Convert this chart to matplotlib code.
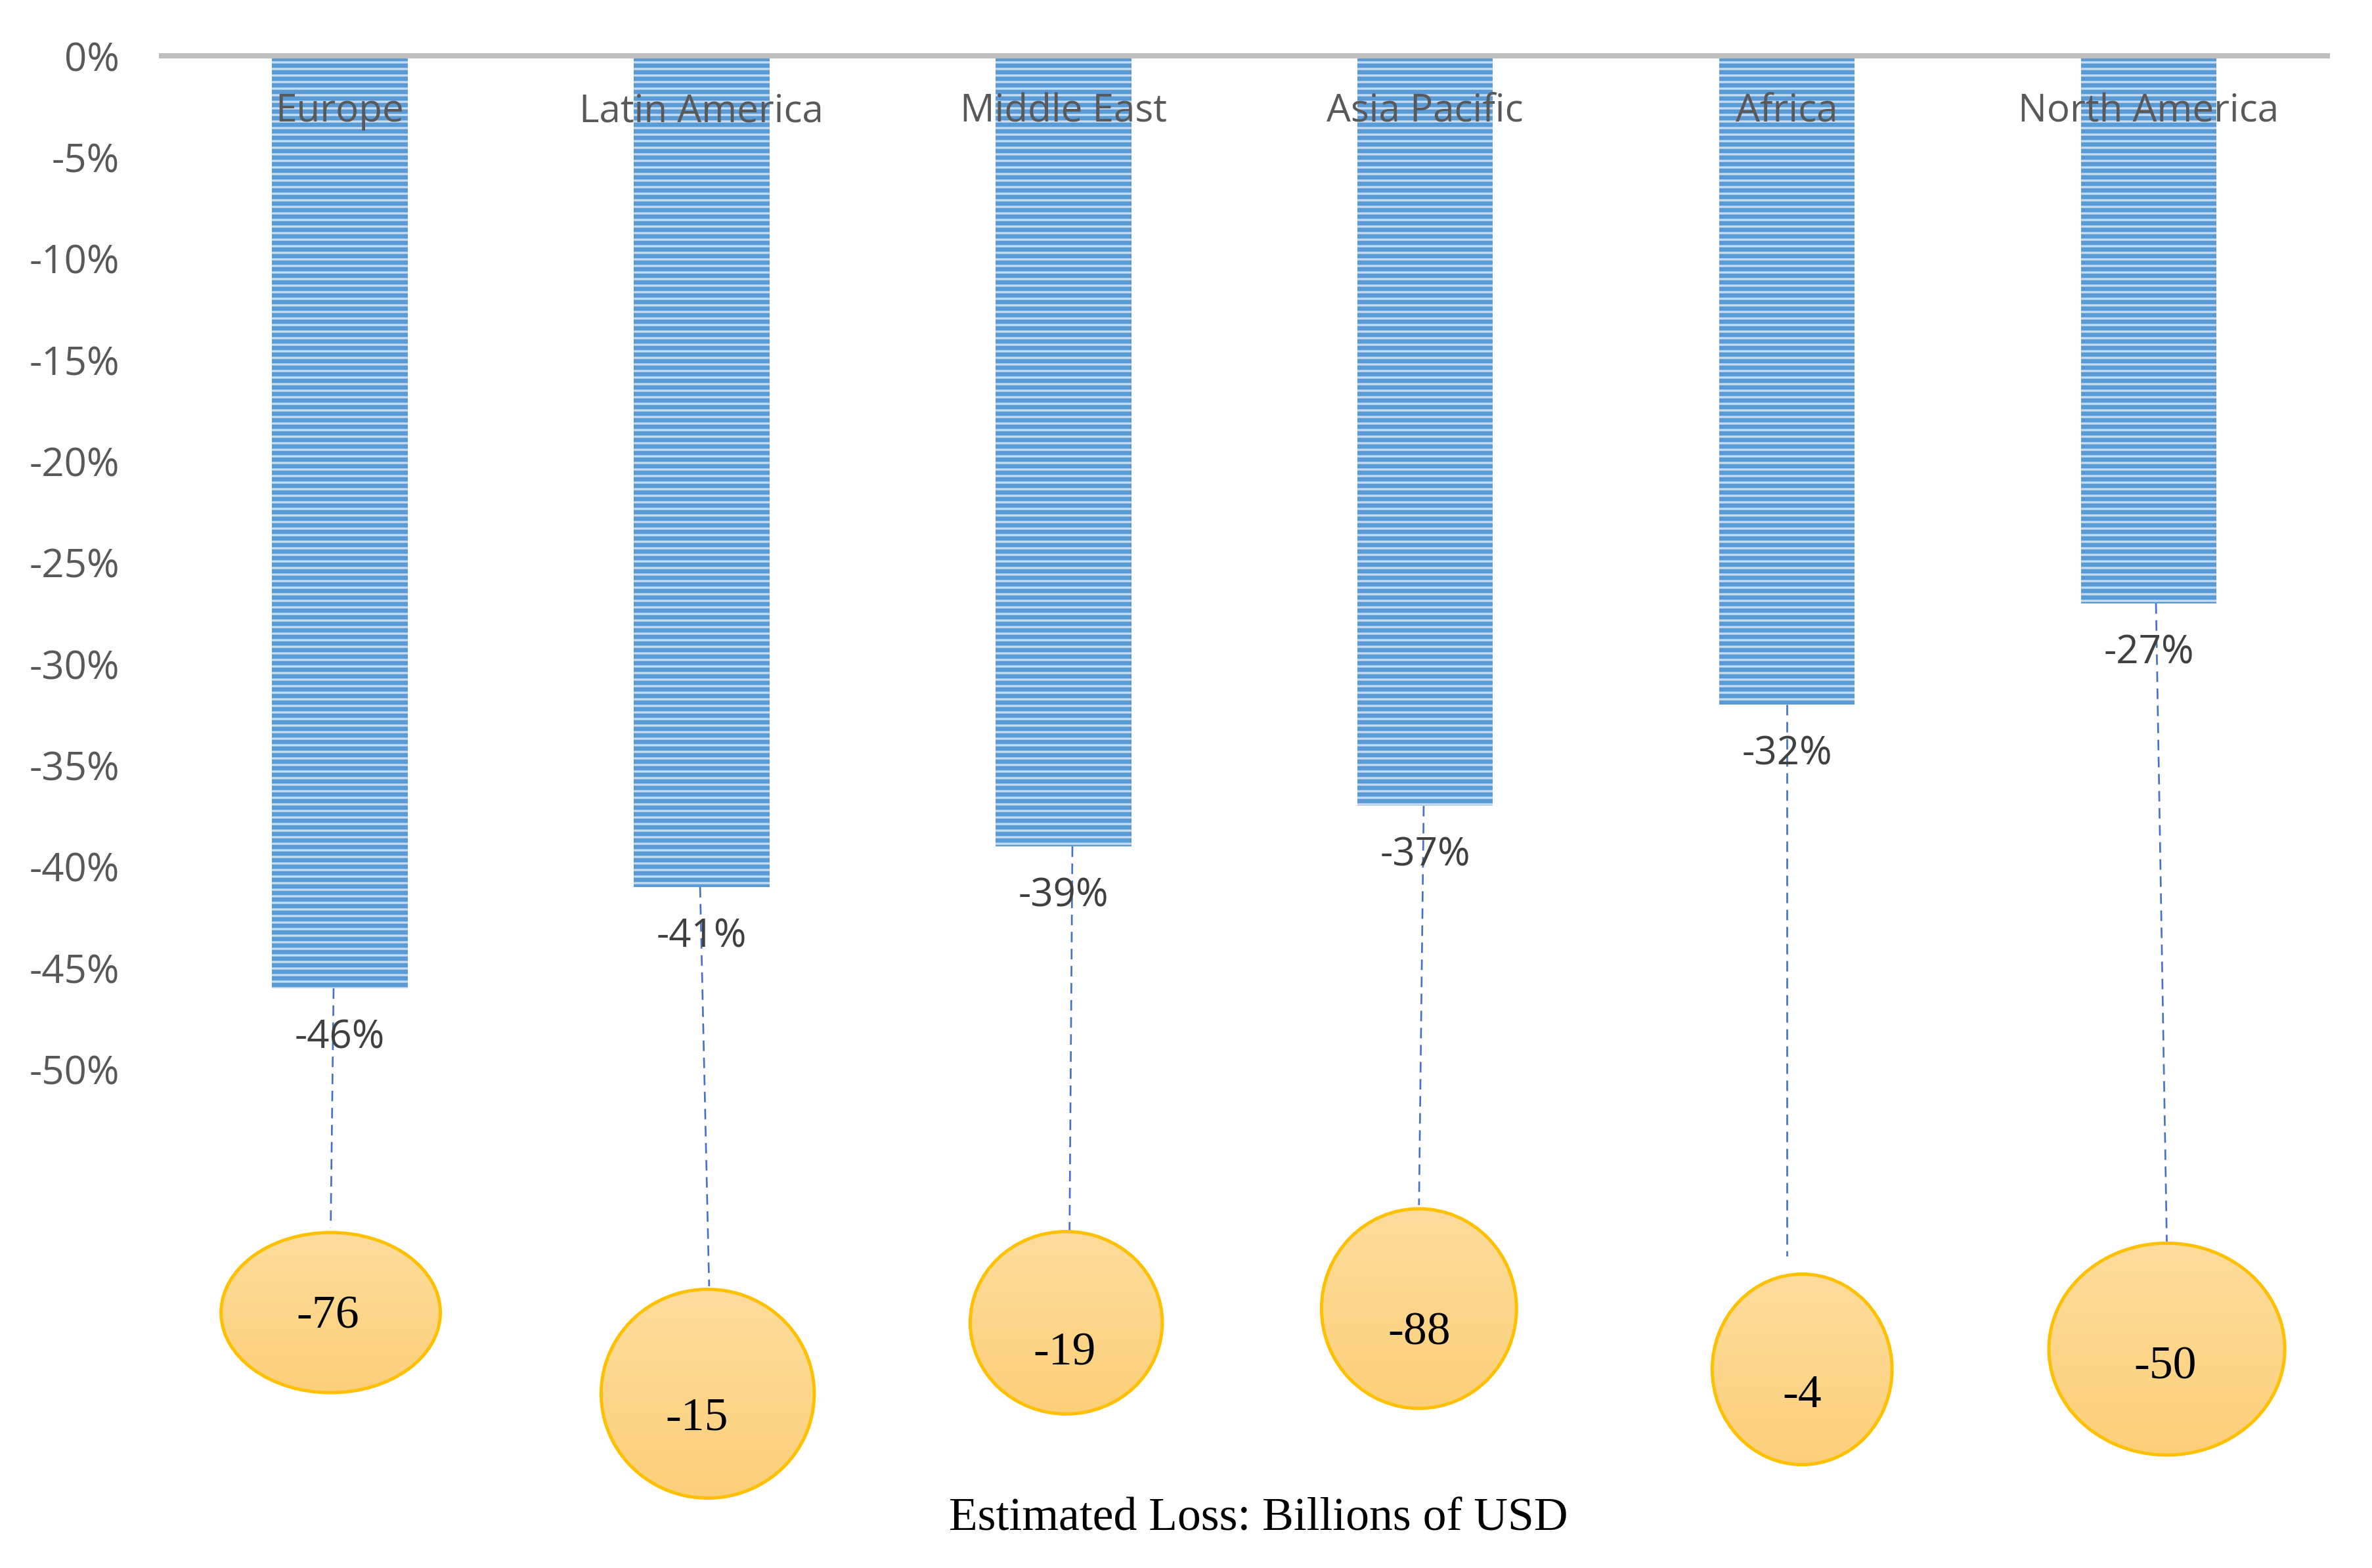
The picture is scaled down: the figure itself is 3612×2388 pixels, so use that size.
import numpy as np
import matplotlib
matplotlib.use('Agg')
import matplotlib.pyplot as plt
from matplotlib.patches import Ellipse
from matplotlib.colors import LinearSegmentedColormap

# chart values
regions = ['Europe', 'Latin America', 'Middle East', 'Asia Pacific', 'Africa', 'North America']
change_pct = [-46, -41, -39, -37, -32, -27]
loss_busd = [-76, -15, -19, -88, -4, -50]
y_ticks = [0, -5, -10, -15, -20, -25, -30, -35, -40, -45, -50]

# layout of the bubbles under each bar (x offset from bar, centre y, width, height)
bubble_dx = [-0.025, 0.017, 0.008, -0.017, 0.042, 0.050]
bubble_y = [-62.0, -66.0, -62.5, -61.8, -64.8, -63.8]
bubble_w = [0.606, 0.589, 0.531, 0.539, 0.497, 0.652]
bubble_h = [7.9, 10.3, 9.0, 9.85, 9.4, 10.45]
text_dx = [-0.033, -0.013, 0.004, -0.017, 0.042, 0.046]
text_y = [-62.2, -67.2, -64.0, -63.0, -66.1, -64.7]
# dashed leader lines: x offset at top / bottom, end y
line_dx_top = [-0.017, -0.004, 0.025, -0.004, 0.0, 0.020]
line_dx_bot = [-0.025, 0.021, 0.017, -0.017, 0.0, 0.050]
line_end_y = [-57.8, -60.7, -58.3, -56.7, -59.2, -58.6]

SANS = 'Open Sans'
SERIF = 'Liberation Serif'
plt.rcParams['hatch.linewidth'] = 2.0

fig = plt.figure(figsize=(30.1, 19.9), dpi=120)
ax = fig.add_axes([105 / 1568, 0, (1540 - 105) / 1568, 1])

x = np.arange(len(regions))
ax.bar(x, change_pct, width=0.375, color='#5B9BD5', edgecolor='#C6DCF2',
       hatch='--', linewidth=0, zorder=2)
ax.axhline(0, color='#BFBFBF', lw=4.8, zorder=3)

bubble_cmap = LinearSegmentedColormap.from_list('bubble', ['#FCD07A', '#FDDC9C'])

for i, name in enumerate(regions):
    ax.text(i, -2.75, name, ha='center', va='center', fontsize=35,
            color='#595959', family=SANS, zorder=4)
    ax.text(i, change_pct[i] - 2.45, f'{change_pct[i]}%', ha='center', va='center',
            fontsize=36, color='#404040', family=SANS, zorder=4)
    ax.plot([i + line_dx_top[i], i + line_dx_bot[i]], [change_pct[i], line_end_y[i]],
            ls=(0, (6, 3.75)), color='#4472C4', lw=1.6, zorder=1)

    cx = i + bubble_dx[i]
    ell = Ellipse((cx, bubble_y[i]), bubble_w[i], bubble_h[i], facecolor='none',
                  edgecolor='#FFC000', lw=3, zorder=3)
    ax.add_patch(ell)
    grad = np.linspace(0, 1, 100).reshape(-1, 1)
    im = ax.imshow(grad, cmap=bubble_cmap, origin='lower', aspect='auto', zorder=2,
                   extent=[cx - bubble_w[i] / 2, cx + bubble_w[i] / 2,
                           bubble_y[i] - bubble_h[i] / 2, bubble_y[i] + bubble_h[i] / 2])
    im.set_clip_path(ell)
    ax.text(i + text_dx[i], text_y[i], f'{loss_busd[i]}', ha='center', va='center',
            fontsize=43, color='black', family=SERIF, zorder=4)

ax.set_xlim(-0.5, 5.5)
ax.set_ylim(-74.6, 2.76)
ax.set_yticks(y_ticks)
ax.set_yticklabels([f'{t}%' for t in y_ticks], fontsize=36, color='#595959',
                   family=SANS)
ax.tick_params(axis='y', length=0, pad=36)
ax.set_xticks([])
for s in ax.spines.values():
    s.set_visible(False)

fig.text(832 / 1568, 1 - 1004 / 1036.6, 'Estimated Loss: Billions of USD', ha='center',
         va='center', fontsize=43, family=SERIF, color='black')

fig.savefig('out.png', dpi=120)
